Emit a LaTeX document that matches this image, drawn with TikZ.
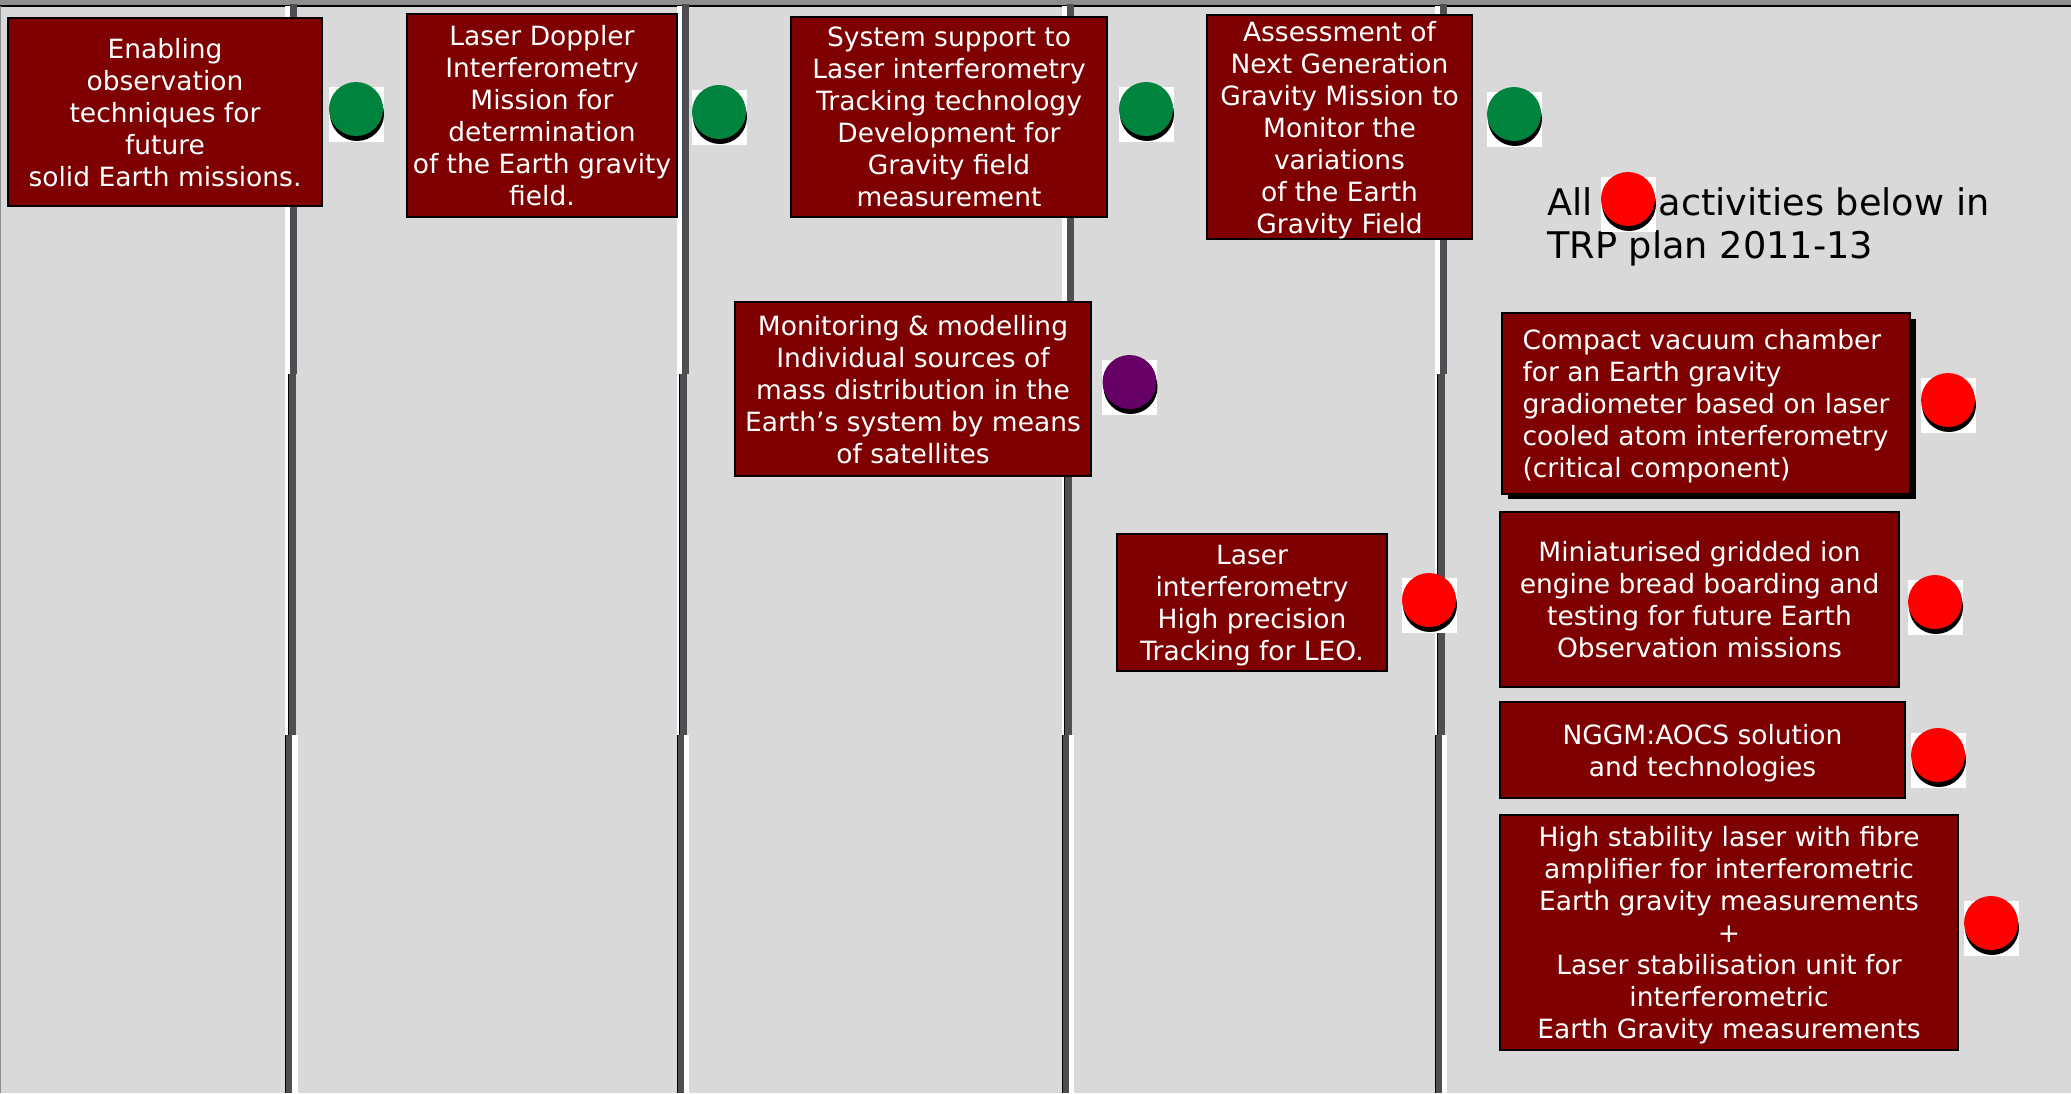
\documentclass[tikz,border=0pt]{standalone}
\usepackage{fontspec}
\setmainfont{DejaVu Sans}

\definecolor{panel}{HTML}{D9D9D9}
\definecolor{topbar}{HTML}{8E8E8E}
\definecolor{rail}{HTML}{4D4F53}
\definecolor{maroon}{HTML}{7F0000}
\definecolor{dotgreen}{RGB}{0,132,61}
\definecolor{dotpurple}{RGB}{102,0,102}
\definecolor{dotred}{RGB}{255,0,0}

% one vertical column divider, built from three slightly offset segments
\newcommand{\railline}[1]{%
  \fill[white] (#1-8.5,6) rectangle (#1-3.5,374);
  \fill[rail] (#1-3.5,4) rectangle (#1+3.5,374);
  \fill[white] (#1-8.5,374) rectangle (#1-6,735);
  \fill[rail] (#1-6,374) rectangle (#1+2,735);
  \draw[black, line width=1pt] (#1-5.5,374) -- (#1-5.5,735);
  \fill[white] (#1-1.5,735) rectangle (#1+4,1093);
  \fill[rail] (#1-8.5,735) rectangle (#1-1.5,1093);
  \draw[black, line width=1pt] (#1-8,735) -- (#1-8,1093);
}

% status marker: white tile, drop shadow and coloured disc
\newcommand{\statusdot}[4]{%
  \fill[white] (#2-27.5,#3-22.5) rectangle (#2+27.5,#3+32.5);
  \fill[black] (#2+1,#3+5) circle[radius=27pt];
  \node[dot, fill=#4] (#1) at (#2,#3) {};
}

\tikzset{
  task/.style={draw=black, line width=1.8pt, fill=maroon, text=white,
    align=center, inner sep=0pt, text depth=0pt,
    font=\fontsize{26.5}{32}\selectfont},
  dot/.style={circle, minimum size=54pt, inner sep=0pt, draw=none},
  legendtext/.style={align=left, inner sep=0pt, text=black,
    font=\fontsize{36.7}{43}\selectfont}
}

\begin{document}
\begin{tikzpicture}[x=1pt,y=-1pt]
\useasboundingbox (0,0) rectangle (2071,1093);
\fill[panel] (0,0) rectangle (2071,1093);
\fill[topbar] (0,0) rectangle (2071,5.5);
\draw[black, line width=1.5pt] (0,6) -- (2071,6);
\draw[topbar, line width=1pt] (0.5,6) -- (0.5,1093);

% column dividers
\railline{293.5}
\railline{685}
\railline{1070}
\railline{1443}

% activity boxes
\node[task, minimum width=314pt, minimum height=188pt] (b1) at (165,112)
  {Enabling\\observation\\techniques for\\future\\solid Earth missions.};
\node[task, minimum width=270pt, minimum height=203pt] (b2) at (542,115.5)
  {Laser Doppler\\Interferometry\\Mission for\\determination\\of the Earth gravity\\field.};
\node[task, minimum width=316pt, minimum height=200pt] (b3) at (949,117)
  {System support to\\Laser interferometry\\Tracking technology\\Development for\\Gravity field\\measurement};
\node[task, minimum width=265pt, minimum height=224pt] (b4) at (1339.5,127)
  {Assessment of\\Next Generation\\Gravity Mission to\\Monitor the\\variations\\of the Earth\\Gravity Field};
\node[task, minimum width=356pt, minimum height=174pt] (b5) at (913,389)
  {Monitoring \& modelling\\Individual sources of\\mass distribution in the\\Earth’s system by means\\of satellites};
\node[task, minimum width=270pt, minimum height=137pt] (b6) at (1252,602.5)
  {Laser\\interferometry\\High precision\\Tracking for LEO.};

\fill[black] (1508,319) rectangle (1916,499);
\node[task, align=left, minimum width=408pt, minimum height=181pt] (b7) at (1706,403.5)
  {Compact vacuum chamber\\for an Earth gravity\\gradiometer based on laser\\cooled atom interferometry\\(critical component)};
\node[task, minimum width=399pt, minimum height=175pt] (b8) at (1699.5,599.5)
  {Miniaturised gridded ion\\engine bread boarding and\\testing for future Earth\\Observation missions};
\node[task, minimum width=405pt, minimum height=96pt] (b9) at (1702.5,750)
  {NGGM:AOCS solution\\and technologies};
\node[task, minimum width=458pt, minimum height=235pt] (b10) at (1729,932.5)
  {High stability laser with fibre\\amplifier for interferometric\\Earth gravity measurements\\+\\Laser stabilisation unit for\\interferometric\\Earth Gravity measurements};

% status markers
\statusdot{s1}{356}{109}{dotgreen}
\statusdot{s2}{719}{112}{dotgreen}
\statusdot{s3}{1146}{109}{dotgreen}
\statusdot{s4}{1514}{114}{dotgreen}
\statusdot{s5}{1129.5}{382}{dotpurple}
\statusdot{s6}{1429}{600}{dotred}
\statusdot{s7}{1948}{400}{dotred}
\statusdot{s8}{1935}{602}{dotred}
\statusdot{s9}{1938}{755}{dotred}
\statusdot{s10}{1991}{923}{dotred}

% legend (anchored on the baseline of its second line)
\node[legendtext, anchor=base west] (note) at (1547,258.5)
  {All\hspace{66pt}activities below in\\TRP plan 2011-13};
\statusdot{key}{1628}{199}{dotred}
\end{tikzpicture}
\end{document}
